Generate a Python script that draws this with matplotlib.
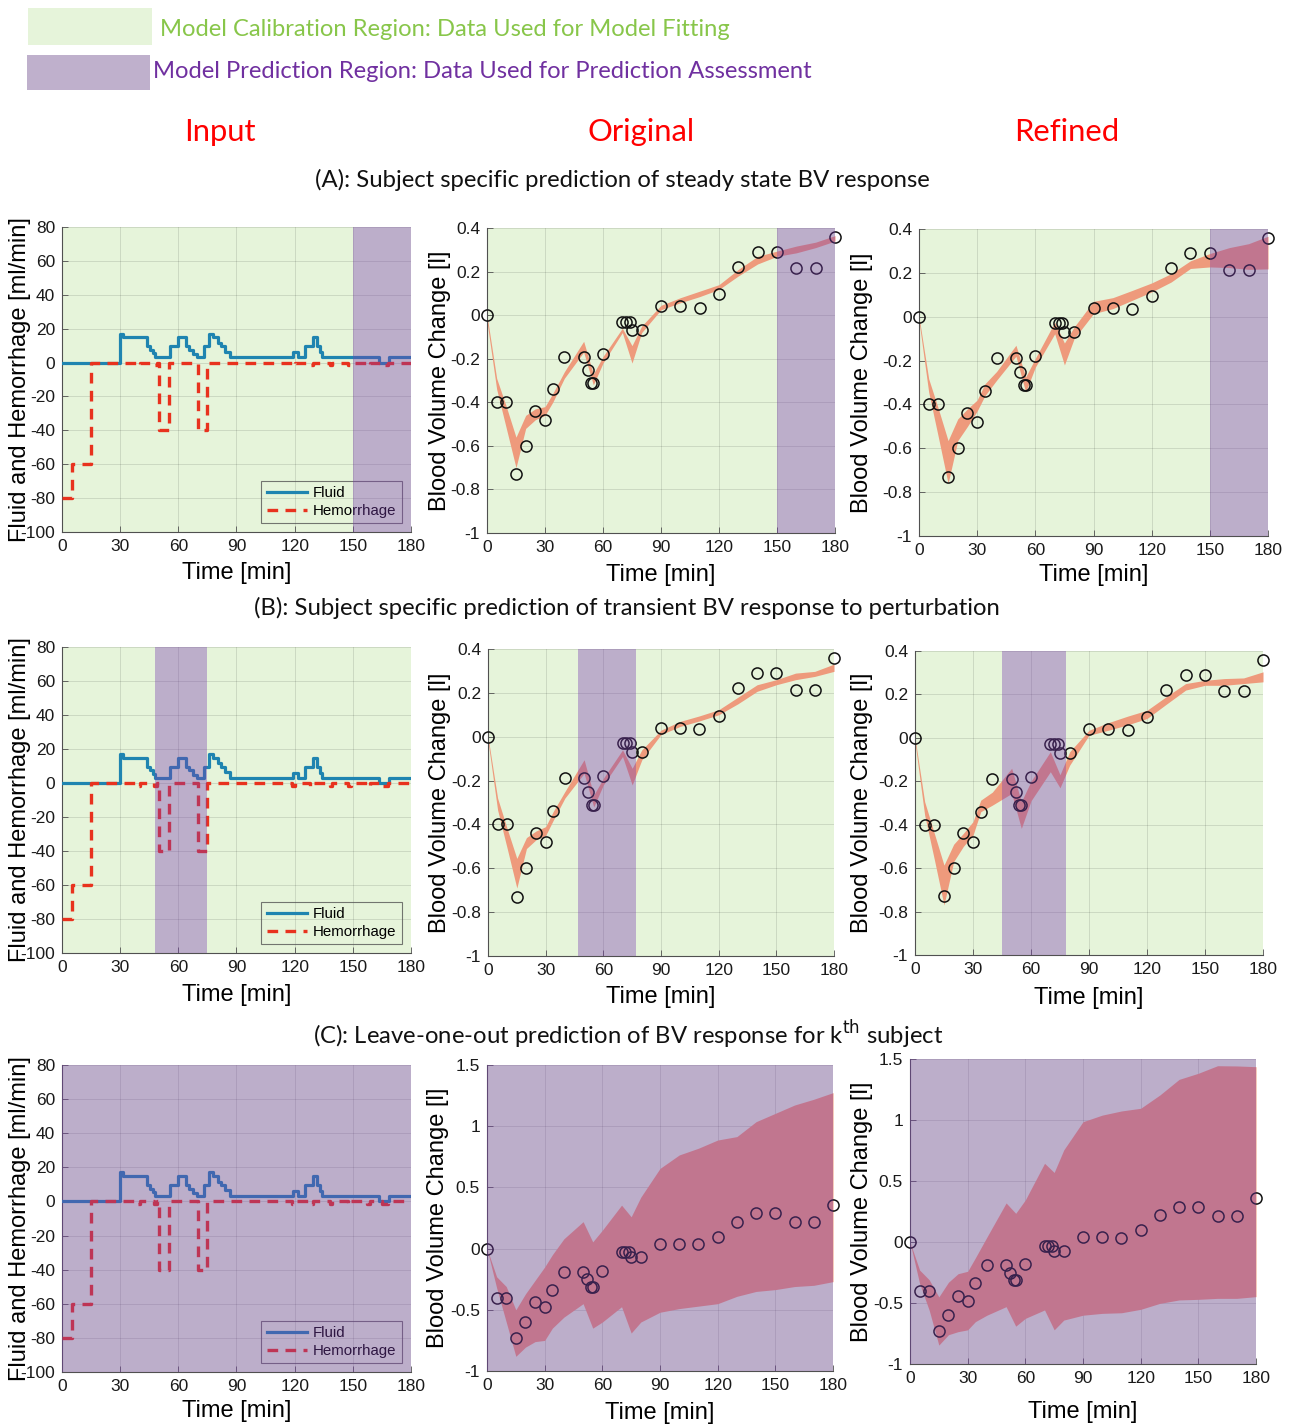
import matplotlib
matplotlib.use('Agg')
import matplotlib.pyplot as plt
import matplotlib.patches as patches

plt.rcParams['font.family'] = ['Liberation Sans', 'DejaVu Sans']
plt.rcParams['axes.unicode_minus'] = False

W, H = 1296, 1427

# colours
GREEN_BG = '#e6f4da'
PURPLE = '#7a3cb0'
PURPLE_ALPHA = 0.38
PURPLE_SWATCH = '#bfb0cc'
BAND = '#ee9a7c'
FLUID_C = '#1f84b0'
HEM_C = '#e8321e'
HEAD_FONT = ['Lato', 'DejaVu Sans']

# ---- input profiles (step functions) ----
fluid_t = [0, 30, 31.5, 44, 45.5, 47, 48, 55.5, 60, 64, 65.5, 67.5, 69.5, 73, 76, 78,
           80.5, 82, 84, 86.5, 119, 121.5, 125.5, 129.2, 131.5, 133, 134, 163.5, 168.5, 180]
fluid_v = [0, 17, 15, 9.5, 7.5, 5.5, 3, 9.5, 15, 9.5, 7.5, 5, 3, 9.5, 17, 15,
           11.5, 9.5, 6.5, 3, 6, 3, 9.5, 15, 9.5, 6, 3, 0, 3, 3]

hem_t = [0, 5, 15, 38, 40, 47.5, 49, 50, 55, 70, 75, 118.5, 120, 128, 129.5, 138,
         139.5, 147.5, 149, 157.5, 159, 165, 168, 180]
hem_v = [-80, -60, 0, -1.5, 0, -1.5, 0, -40, 0, -40, 0, -1.5, 0, -1.5, 0, -1.5,
         0, -1.5, 0, -1.5, 0, -1.5, 0, 0]

# ---- measured blood volume change ----
t_obs = [0, 5, 10, 15, 20, 25, 30, 34, 40, 50, 52, 54, 55, 60, 70, 72, 74, 75, 80,
         90, 100, 110, 120, 130, 140, 150, 160, 170, 180]
bv_obs = [0, -0.40, -0.40, -0.73, -0.60, -0.44, -0.48, -0.34, -0.19, -0.19, -0.25,
          -0.31, -0.31, -0.18, -0.03, -0.03, -0.03, -0.07, -0.07, 0.04, 0.04, 0.035,
          0.095, 0.22, 0.29, 0.29, 0.215, 0.215, 0.36]

# ---- model prediction bands ----
t_band = [0, 5, 10, 15, 20, 25, 30, 34, 40, 50, 55, 60, 70, 75, 80, 90, 100, 110,
          120, 130, 140, 150, 160, 170, 180]

a_orig_hi = [0, -0.29, -0.42, -0.56, -0.46, -0.43, -0.42, -0.36, -0.26, -0.12, -0.27,
             -0.19, -0.06, -0.14, -0.05, 0.045, 0.08, 0.11, 0.14, 0.21, 0.27, 0.294,
             0.317, 0.335, 0.365]
a_orig_lo = [-0.03, -0.34, -0.52, -0.70, -0.52, -0.48, -0.46, -0.40, -0.29, -0.17, -0.32,
             -0.22, -0.08, -0.22, -0.08, 0.025, 0.057, 0.085, 0.118, 0.18, 0.235, 0.27,
             0.286, 0.31, 0.34]
a_ref_hi = [0, -0.283, -0.42, -0.565, -0.466, -0.42, -0.38, -0.306, -0.25, -0.13, -0.275,
            -0.19, -0.025, -0.12, -0.047, 0.07, 0.087, 0.12, 0.154, 0.196, 0.255, 0.288,
            0.315, 0.333, 0.367]
a_ref_lo = [-0.02, -0.344, -0.55, -0.76, -0.565, -0.50, -0.43, -0.36, -0.29, -0.18, -0.344,
            -0.23, -0.078, -0.22, -0.10, 0.014, 0.037, 0.075, 0.113, 0.158, 0.22, 0.227,
            0.224, 0.216, 0.218]
b_orig_hi = [0, -0.28, -0.42, -0.555, -0.46, -0.43, -0.41, -0.34, -0.25, -0.105, -0.266,
             -0.19, -0.06, -0.144, -0.06, 0.03, 0.07, 0.095, 0.123, 0.18, 0.237, 0.26,
             0.29, 0.298, 0.331]
b_orig_lo = [-0.02, -0.334, -0.51, -0.69, -0.51, -0.47, -0.45, -0.38, -0.28, -0.167, -0.32,
             -0.22, -0.09, -0.22, -0.106, 0.01, 0.047, 0.072, 0.1, 0.15, 0.207, 0.237,
             0.26, 0.275, 0.298]
b_ref_hi = [0, -0.294, -0.44, -0.586, -0.49, -0.44, -0.386, -0.287, -0.25, -0.14, -0.294,
            -0.2, -0.064, -0.17, -0.064, 0.035, 0.07, 0.1, 0.127, 0.19, 0.25, 0.265,
            0.273, 0.276, 0.304]
b_ref_lo = [-0.02, -0.356, -0.56, -0.77, -0.57, -0.50, -0.448, -0.34, -0.31, -0.256, -0.417,
            -0.29, -0.156, -0.23, -0.126, 0.012, 0.035, 0.06, 0.089, 0.155, 0.22, 0.242,
            0.242, 0.25, 0.258]
c_orig_hi = [0, -0.23, -0.31, -0.5, -0.37, -0.26, -0.15, -0.05, 0.08, 0.22, 0.055,
             0.15, 0.355, 0.26, 0.42, 0.655, 0.765, 0.82, 0.887, 0.915, 1.037, 1.105,
             1.173, 1.22, 1.274]
c_orig_lo = [0, -0.32, -0.6, -0.88, -0.805, -0.76, -0.75, -0.65, -0.56, -0.45, -0.65,
             -0.6, -0.475, -0.69, -0.6, -0.52, -0.49, -0.47, -0.45, -0.39, -0.35, -0.335,
             -0.31, -0.30, -0.27]
c_ref_hi = [0, -0.23, -0.31, -0.45, -0.33, -0.26, -0.24, -0.13, 0.04, 0.32, 0.235,
            0.345, 0.645, 0.57, 0.755, 0.986, 1.04, 1.074, 1.096, 1.205, 1.333, 1.383,
            1.445, 1.443, 1.437]
c_ref_lo = [0, -0.34, -0.56, -0.845, -0.76, -0.735, -0.72, -0.653, -0.6, -0.53, -0.69,
            -0.626, -0.557, -0.72, -0.64, -0.6, -0.585, -0.58, -0.552, -0.503, -0.475,
            -0.47, -0.462, -0.462, -0.448]

x_ticks = [0, 30, 60, 90, 120, 150, 180]
input_yticks = [-100, -80, -60, -40, -20, 0, 20, 40, 60, 80]
bv_yticks_ab = [-1, -0.8, -0.6, -0.4, -0.2, 0, 0.2, 0.4]
bv_yticks_c = [-1, -0.5, 0, 0.5, 1, 1.5]

fig = plt.figure(figsize=(W / 100, H / 100), dpi=100)
fig.patch.set_facecolor('white')


def add_ax(l, t, r, b):
    ax = fig.add_axes([l / W, 1 - b / H, (r - l) / W, (b - t) / H])
    ax._px = (l, t, r, b)
    return ax


def style_ax(ax, yticks, ylabel, ylab_x, xlab_y):
    l, t, r, b = ax._px
    ax.set_facecolor(GREEN_BG)
    ax.set_xlim(0, 180)
    ax.set_ylim(yticks[0], yticks[-1])
    ax.set_xticks(x_ticks)
    ax.set_yticks(yticks)
    ax.set_yticklabels(['%g' % v for v in yticks])
    ax.grid(True, color='k', alpha=0.13, lw=0.6)
    ax.set_axisbelow(True)
    for s in ['top', 'right']:
        ax.spines[s].set_visible(False)
    for s in ['left', 'bottom']:
        ax.spines[s].set_color('#505050')
        ax.spines[s].set_linewidth(0.8)
    ax.tick_params(direction='in', length=4, width=0.6, colors='#505050',
                   labelcolor='#1a1a1a', labelsize=12.5, pad=5)
    ax.set_xlabel('Time [min]', fontsize=17, va='center')
    ax.set_ylabel(ylabel, fontsize=17, va='center')
    # label centres given in figure pixels
    ax.yaxis.set_label_coords((ylab_x - l) / (r - l), 0.5)
    ax.xaxis.set_label_coords(0.5, (b - xlab_y) / (b - t))


def shade(ax, spans):
    for x0, x1 in spans:
        ax.axvspan(x0, x1, color=PURPLE, alpha=PURPLE_ALPHA, lw=0, zorder=6)


def input_panel(ax, spans, xlab_y):
    style_ax(ax, input_yticks, 'Fluid and Hemorrhage [ml/min]', 20, xlab_y)
    ax.plot(fluid_t, fluid_v, drawstyle='steps-post', color=FLUID_C, lw=2.3,
            label='Fluid', zorder=3)
    ax.plot(hem_t, hem_v, drawstyle='steps-post', color=HEM_C, lw=2.4,
            ls=(0, (3.2, 2.2)), label='Hemorrhage', zorder=3)
    leg = ax.legend(loc='lower right', fontsize=10.8, handlelength=2.7,
                    borderaxespad=0.6, fancybox=False, edgecolor='#555555',
                    borderpad=0.35, labelspacing=0.25, handletextpad=0.4)
    leg.get_frame().set_facecolor('none')
    leg.get_frame().set_linewidth(0.8)
    leg.set_zorder(5)
    shade(ax, spans)


def bv_panel(ax, hi, lo, spans, yticks, ylab_x, xlab_y):
    style_ax(ax, yticks, 'Blood Volume Change [l]', ylab_x, xlab_y)
    ax.fill_between(t_band, lo, hi, color=BAND, lw=0, zorder=2)
    ax.plot(t_obs, bv_obs, 'o', mfc='none', mec='#111111', mew=1.1, ms=8,
            zorder=4, clip_on=False)
    shade(ax, spans)


# row A
input_panel(add_ax(62, 227, 411, 532), [(150, 180)], 573)
bv_panel(add_ax(487, 228, 835, 533), a_orig_hi, a_orig_lo, [(150, 180)],
         bv_yticks_ab, 440, 575)
bv_panel(add_ax(919, 229, 1268, 536), a_ref_hi, a_ref_lo, [(150, 180)],
         bv_yticks_ab, 862, 575)

# row B
input_panel(add_ax(62, 647, 411, 953), [(48, 75)], 995)
bv_panel(add_ax(488, 649, 834, 956), b_orig_hi, b_orig_lo, [(47, 77)],
         bv_yticks_ab, 440, 997)
bv_panel(add_ax(915, 651, 1263, 955), b_ref_hi, b_ref_lo, [(45, 78)],
         bv_yticks_ab, 862, 998)

# row C
input_panel(add_ax(62, 1065, 411, 1372), [(0, 180)], 1411)
bv_panel(add_ax(487, 1065, 833, 1371), c_orig_hi, c_orig_lo, [(0, 180)],
         bv_yticks_c, 438, 1413)
bv_panel(add_ax(910, 1059, 1256, 1364), c_ref_hi, c_ref_lo, [(0, 180)],
         bv_yticks_c, 862, 1412)


def ftext(x, y, s, **kw):
    fig.text(x / W, 1 - y / H, s, family=HEAD_FONT, **kw)


# header key
fig.add_artist(patches.Rectangle((28 / W, 1 - 45 / H), 124 / W, 37 / H,
                                 transform=fig.transFigure, color=GREEN_BG, lw=0))
fig.add_artist(patches.Rectangle((27 / W, 1 - 90 / H), 123 / W, 35 / H,
                                 transform=fig.transFigure, color=PURPLE_SWATCH, lw=0))
ftext(160, 29, 'Model Calibration Region: Data Used for Model Fitting',
      color='#88c64a', fontsize=17.1, va='center', ha='left')
ftext(153, 72, 'Model Prediction Region: Data Used for Prediction Assessment',
      color='#7030a0', fontsize=17.1, va='center', ha='left')

# column titles
for x, s in [(220, 'Input'), (641, 'Original'), (1067, 'Refined')]:
    ftext(x, 132, s, color='#ff0000', fontsize=22.3, ha='center', va='center')

# section titles
ftext(622, 180, '(A): Subject specific prediction of steady state BV response',
      fontsize=17.2, ha='center', va='center', color='#111111')
ftext(627, 608, '(B): Subject specific prediction of transient BV response to perturbation',
      fontsize=17.2, ha='center', va='center', color='#111111')
ftext(628, 1035, '(C): Leave-one-out prediction of BV response for k$^{\\mathrm{th}}$ subject',
      fontsize=17.2, ha='center', va='center', color='#111111')

fig.savefig('out.png', dpi=100, facecolor='white')
